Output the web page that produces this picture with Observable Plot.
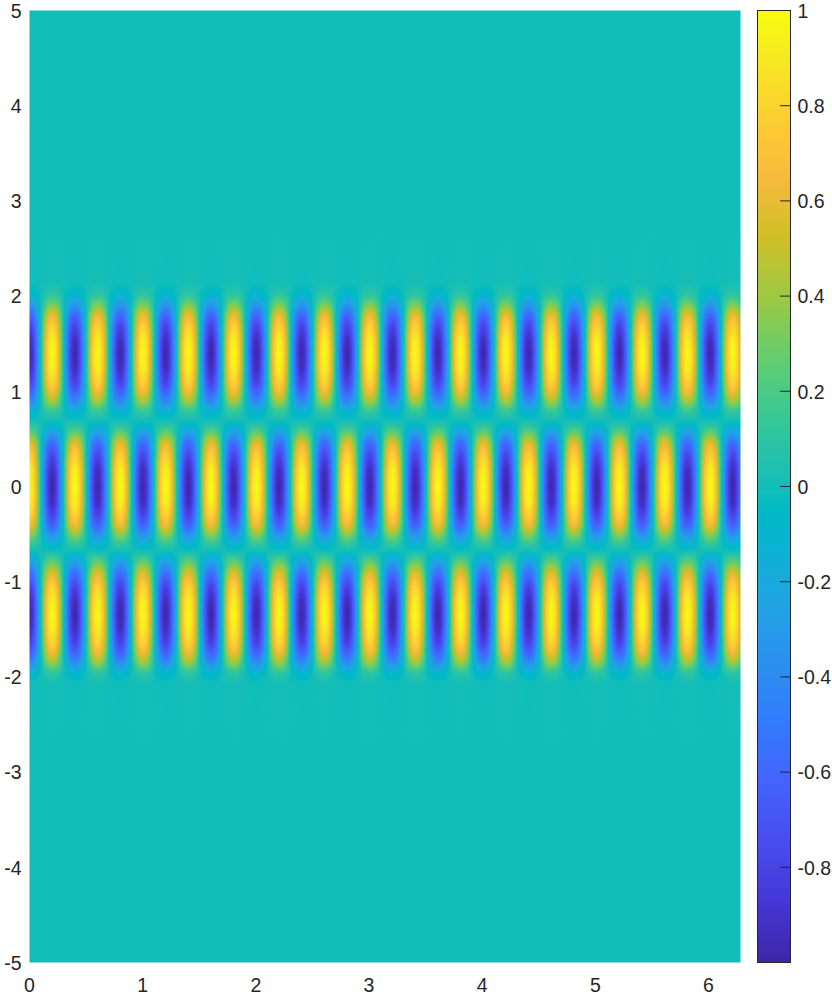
<!DOCTYPE html>
<html><head><meta charset="utf-8">
<script src="https://cdn.jsdelivr.net/npm/d3@7"></script>
<script src="https://cdn.jsdelivr.net/npm/@observablehq/plot@0.6"></script>
<style>
html,body{margin:0;padding:0;background:#fff;width:832px;height:995px;overflow:hidden}
#main,#bar{position:absolute;top:0}
#main{left:0}#bar{left:745px}
svg{display:block;background:#fff;overflow:visible}
</style></head><body>
<div id="main"></div><div id="bar"></div>
<script>
// Colour levels
const colorLevels = [-1,-.873,-.746,-.619,-.492,-.365,-.238,-.111,-.048,.016,.143,.27,.397,.524,.651,.778,.905,1];
const colorStops = ["#3e26a8","#4537d5","#484df0","#4563fd","#327cfc","#2b91ef","#20a5e3","#08b5d0","#02bac3","#19bfb6","#37c897","#64cd6f","#9dc943","#d1bf27","#f8ba3d","#fccf30","#f5eb20","#f9fb0e"];
// Vertical envelope read down one stripe (y, signed level)
const rowY = [5,2.7,2.13,2.01,1.90,1.80,1.69,1.53,1.39,1.24,1.09,.99,.88,.80,.69,.64,.57,.45,.33,.17,0,-.17,-.30,-.41,-.51,-.60,-.68,-.80,-.91,-1.04,-1.20,-1.34,-1.49,-1.65,-1.75,-1.86,-1.95,-2.06,-2.7,-5];
const rowLevel = [0,0,-.01,-.11,-.36,-.62,-.81,-.96,-1,-.96,-.82,-.65,-.40,-.16,0,.10,.27,.61,.80,.96,1,.96,.82,.65,.37,.14,0,-.30,-.58,-.81,-.96,-1,-.96,-.82,-.65,-.39,-.12,-.01,0,0];
// Horizontal swing read across one period, in sixteen equal steps
const swing = [1,.92,.71,.38,0,-.38,-.71,-.92,-1,-.92,-.71,-.38,0,.38,.71,.92];
const period = 0.401;
const xMax = 6.283;
const xTicks = [0,1,2,3,4,5,6];
const yTicks = [-5,-4,-3,-2,-1,0,1,2,3,4,5];
const barTicks = [-.8,-.6,-.4,-.2,0,.2,.4,.6,.8,1];

const step = period / swing.length;
const colX = d3.range(0, xMax, step).concat([xMax]);
const swingAt = x => {
  const k = x / step, i = Math.floor(k), t = k - i;
  return swing[i % 16] * (1 - t) + swing[(i + 1) % 16] * t;
};
const cells = [];
for (let r = 0; r < rowY.length; ++r)
  for (const x of colX) cells.push({x, y: rowY[r], v: rowLevel[r] * swingAt(x)});

const color = {type: "linear", domain: colorLevels, range: colorStops, clamp: true};
const ink = "#262626";
const font = {fontFamily: "'Liberation Sans', Arial, sans-serif", fontSize: "19.5px", color: ink};

document.getElementById("main").append(Plot.plot({
  width: 745, height: 995, marginLeft: 29, marginRight: 5, marginTop: 10, marginBottom: 33,
  style: font,
  x: {domain: [0, xMax]},
  y: {domain: [-5, 5]},
  color,
  marks: [
    Plot.raster(cells, {x: "x", y: "y", fill: "v", interpolate: "barycentric", pixelSize: 1,
      x1: 0, x2: xMax, y1: -5, y2: 5}),
    Plot.axisX({ticks: xTicks, tickSize: 0, tickPadding: 16, label: null, tickFormat: d => `${d}`, fill: ink, fontSize: 19.5}),
    Plot.axisY({ticks: yTicks, tickSize: 0, tickPadding: 8, dy: 1, label: null, tickFormat: d => `${d}`, fill: ink, fontSize: 19.5})
  ]
}));

document.getElementById("bar").append(Plot.plot({
  width: 87, height: 995, marginLeft: 12, marginRight: 42, marginTop: 10, marginBottom: 33,
  style: font,
  x: {domain: [0, 1], axis: null},
  y: {domain: [-1, 1]},
  color,
  marks: [
    Plot.raster({fill: (x, y) => y, x1: 0, x2: 1, y1: -1, y2: 1, pixelSize: 1}),
    Plot.ruleY(barTicks.filter(d => d !== 1), {x1: .7, x2: 1, stroke: ink}),
    Plot.frame({stroke: ink}),
    Plot.axisY({anchor: "right", ticks: barTicks, tickSize: 0, tickPadding: 7, dy: 1, label: null, tickFormat: d => `${d}`, fill: ink, fontSize: 19.5})
  ]
}));
</script>
</body></html>
